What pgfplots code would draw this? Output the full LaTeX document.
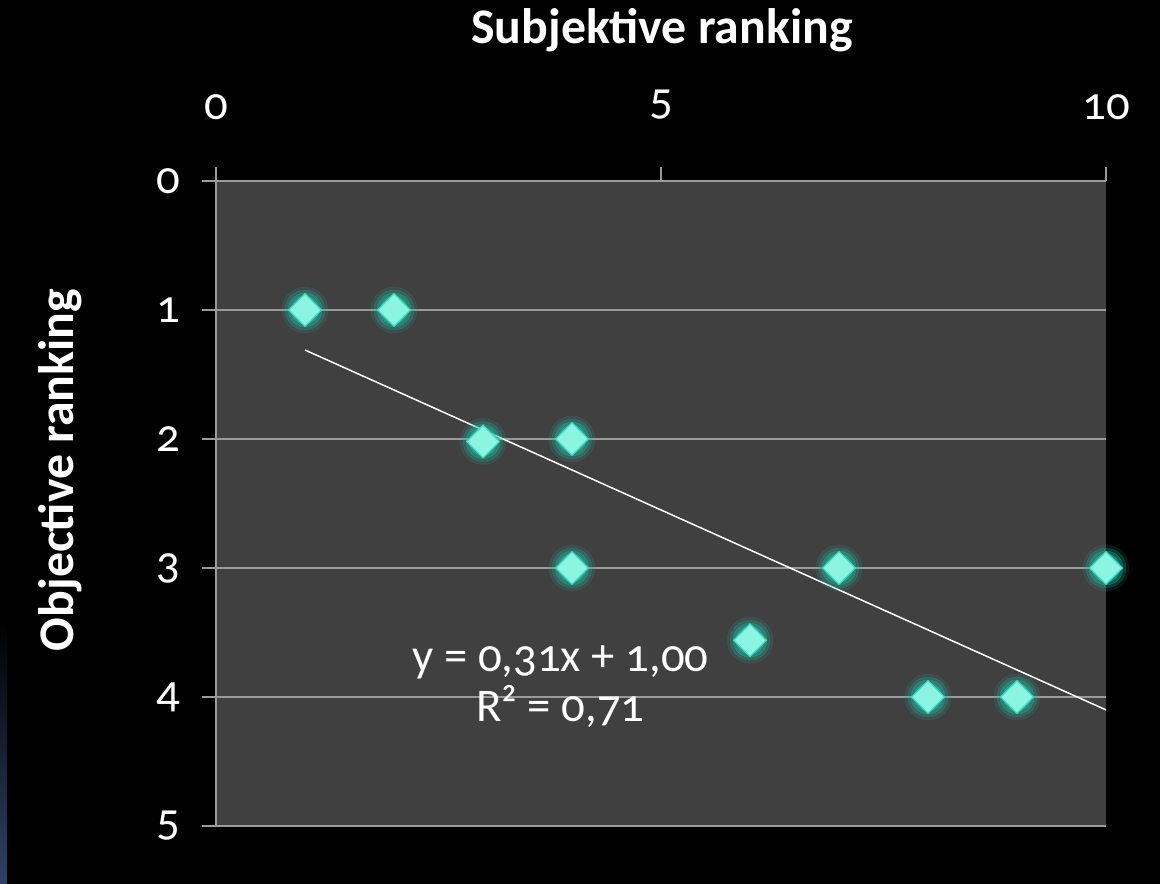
\documentclass[border=0pt]{standalone}
\usepackage{fontspec}
\setmainfont{Carlito}[Numbers=OldStyle]
\usepackage{pgfplots}
\usepackage{pgfplotstable}
\pgfplotsset{compat=1.18}
\definecolor{plotbg}{HTML}{404040}
\definecolor{gridgray}{HTML}{9A9A9A}
\definecolor{stripblue}{HTML}{2E4266}
\definecolor{glow}{HTML}{20C0A6}
\definecolor{face}{HTML}{8CF5E2}
\definecolor{edge}{HTML}{3FE0C8}
\pgfplotstableread{
x y
1 1
2 1
3 2.02
4 2
4 3
6 3.56
7 3
8 4
9 4
10 3
}\datatab
\begin{document}
\begin{tikzpicture}
\fill[black] (-216bp,-58bp) rectangle (944bp,826bp);
\shade[top color=black, bottom color=stripblue] (-216bp,-58bp) rectangle (-209bp,206bp);
\begin{axis}[
  at={(0,0)}, anchor=south west,
  scale only axis, width=890bp, height=645bp,
  xmin=0, xmax=10, ymin=0, ymax=5, y dir=reverse,
  axis background/.style={fill=plotbg},
  axis line style={draw=none},
  xtick={5,10},
  extra x ticks={0},
  extra x tick style={grid=major},
  ytick={0,1,2,3,4,5},
  ymajorgrids,
  major grid style={gridgray, line width=1.5bp},
  xticklabel pos=upper, xtick pos=upper,
  ytick pos=left,
  tick align=outside,
  major tick length=14bp,
  every tick/.style={gridgray, line width=1.5bp},
  ticklabel style={font=\fontsize{47}{56}\selectfont, text=white},
  xticklabel style={yshift=44bp},
  yticklabel style={xshift=-18bp},
  /pgf/number format/assume math mode=true,
  clip=false,
]
\addplot[only marks, mark=*, mark size=23bp, color=glow, opacity=0.12] table[x=x,y=y] {\datatab};
\addplot[only marks, mark=*, mark size=20bp, color=glow, opacity=0.2] table[x=x,y=y] {\datatab};
\addplot[only marks, mark=*, mark size=17bp, color=glow, opacity=0.3] table[x=x,y=y] {\datatab};
\addplot[only marks, mark=*, mark size=14bp, color=glow, opacity=0.45] table[x=x,y=y] {\datatab};
\addplot[only marks, mark=square*, mark size=11.5bp, mark options={rotate=45, draw=edge, line width=1.2bp, fill=face}] table[x=x,y=y] {\datatab};
\addplot[white, line width=1.5bp] coordinates {(1,1.31) (10,4.10)};
\node[align=center, text=white, font=\fontsize{47}{50}\selectfont] at (axis cs:3.87,3.92) {y = 0,31x + 1,00\\R² = 0,71};
\end{axis}
\node[text=white, font=\bfseries\fontsize{50}{60}\selectfont] at (446bp,796bp) {Subjektive ranking};
\node[text=white, rotate=90, font=\bfseries\fontsize{50}{60}\selectfont] at (-156bp,356bp) {Objective ranking};
\end{tikzpicture}
\end{document}
